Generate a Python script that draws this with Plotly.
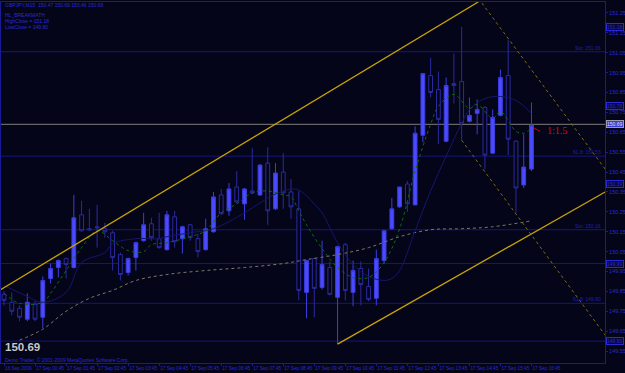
import plotly.graph_objects as go

# ---------------- data ----------------
bars = list(range(69))
opens = [149.835, 149.795, 149.765, 149.71, 149.785, 149.72, 149.915, 149.97, 150.015, 149.97,
         150.235, 150.165, 150.175, 150.165, 150.145, 150.035, 149.945, 150.02, 150.105, 150.19,
         150.115, 150.06, 150.225, 150.115, 150.185, 150.115, 150.06, 150.15, 150.335, 150.255,
         150.375, 150.29, 150.355, 150.335, 150.495, 150.265, 150.45, 150.35, 150.265, 149.845,
         150.015, 149.87, 149.97, 149.82, 150.085, 149.845, 149.965, 149.875, 149.815, 150.005,
         150.165, 150.275, 150.39, 150.285, 150.635, 150.935, 150.865, 150.605, 150.895, 150.905,
         150.705, 150.745, 150.775, 150.545, 150.735, 150.935, 150.605, 150.385, 150.465]
highs = [149.85, 149.845, 149.78, 149.84, 149.80, 149.925, 149.99, 150.01, 150.02, 150.335,
         150.305, 150.265, 150.285, 150.195, 150.155, 150.045, 150.02, 150.10, 150.245, 150.22,
         150.245, 150.255, 150.255, 150.18, 150.19, 150.14, 150.215, 150.35, 150.365, 150.395,
         150.455, 150.37, 150.57, 150.49, 150.575, 150.495, 150.545, 150.415, 150.355, 150.005,
         150.02, 150.105, 150.00, 150.08, 150.095, 150.005, 150.00, 149.965, 150.06, 150.155,
         150.32, 150.375, 150.405, 150.68, 150.945, 151.025, 150.955, 150.925, 151.045, 151.18,
         150.825, 150.815, 150.78, 150.765, 150.965, 151.115, 150.61, 150.64, 150.80]
lows = [149.78, 149.73, 149.70, 149.70, 149.70, 149.665, 149.89, 149.92, 149.915, 149.965,
        150.15, 150.155, 150.07, 150.12, 149.955, 149.905, 149.93, 149.955, 150.10, 150.105,
        150.065, 150.055, 150.07, 150.04, 150.105, 150.02, 150.055, 150.145, 150.235, 150.23,
        150.295, 150.21, 150.34, 150.33, 150.185, 150.26, 150.265, 150.215, 149.805, 149.715,
        149.72, 149.86, 149.83, 149.585, 149.805, 149.775, 149.78, 149.80, 149.78, 149.99,
        150.16, 150.27, 150.25, 150.285, 150.60, 150.825, 150.59, 150.60, 150.795, 150.61,
        150.70, 150.64, 150.465, 150.54, 150.73, 150.535, 150.245, 150.37, 150.455]
closes = [149.805, 149.75, 149.72, 149.795, 149.71, 149.905, 149.965, 150.005, 149.985, 150.22,
          150.155, 150.16, 150.17, 150.15, 150.02, 149.935, 150.015, 150.095, 150.185, 150.12,
          150.07, 150.235, 150.10, 150.175, 150.12, 150.05, 150.165, 150.325, 150.24, 150.365,
          150.30, 150.365, 150.345, 150.485, 150.255, 150.445, 150.345, 150.275, 149.855, 150.005,
          149.865, 149.985, 149.835, 150.075, 149.855, 149.955, 149.885, 149.81, 150.015, 150.155,
          150.265, 150.375, 150.29, 150.645, 150.945, 150.85, 150.715, 150.885, 150.885, 150.695,
          150.735, 150.765, 150.535, 150.725, 150.925, 150.615, 150.37, 150.475, 150.685]

tick_bars = [0, 4, 8, 12, 16, 20, 24, 28, 32, 36, 40, 44, 48, 52, 56, 60, 64, 68]
tick_text = ["16 Sep 2009", "17 Sep 00:45", "17 Sep 01:45", "17 Sep 02:45", "17 Sep 03:45",
             "17 Sep 04:45", "17 Sep 05:45", "17 Sep 06:45", "17 Sep 07:45", "17 Sep 08:45",
             "17 Sep 09:45", "17 Sep 10:45", "17 Sep 11:45", "17 Sep 12:45", "17 Sep 13:45",
             "17 Sep 14:45", "17 Sep 15:45", "17 Sep 16:45"]
price_ticks = [151.25, 151.15, 151.05, 150.95, 150.85, 150.75, 150.65, 150.55, 150.45,
               150.35, 150.25, 150.15, 150.05, 149.95, 149.85, 149.75, 149.65, 149.55]

# moving averages
ma_fast_bar = [0, 2, 5, 6, 8, 10, 12, 14, 16, 18, 19, 21, 24, 26, 28, 30, 32, 34, 36, 37, 38, 39,
               41, 43, 45, 47, 49, 51, 53, 55, 56, 58, 60, 61, 63, 64, 66, 67, 68]
ma_fast_val = [149.84, 149.79, 149.795, 149.84, 149.955, 150.07, 150.155, 150.105, 150.055, 150.05,
               150.085, 150.095, 150.125, 150.155, 150.245, 150.29, 150.345, 150.355, 150.335,
               150.325, 150.255, 150.185, 150.065, 149.97, 149.92, 149.92, 149.995, 150.165,
               150.455, 150.69, 150.78, 150.84, 150.77, 150.79, 150.72, 150.755, 150.655, 150.645,
               150.67]
ma_mid_bar = [0, 3, 5, 8, 10, 13, 14, 17, 20, 21, 24, 27, 31, 33, 35, 37, 38, 39, 40, 41, 43, 45,
              47, 49, 50, 51, 53, 55, 57, 59, 60, 62, 64, 66, 68]
ma_mid_val = [149.88, 149.825, 149.795, 149.845, 149.995, 150.045, 150.09, 150.115, 150.115,
              150.125, 150.145, 150.165, 150.245, 150.295, 150.34, 150.365, 150.36, 150.33, 150.29,
              150.245, 150.095, 149.985, 149.925, 149.905, 149.915, 149.955, 150.155, 150.355,
              150.53, 150.695, 150.765, 150.82, 150.83, 150.81, 150.745]
ma_slow_bar = [2, 5, 8, 11, 14, 17, 21, 26, 31, 36, 39, 43, 47, 51, 55, 59, 63, 68]
ma_slow_val = [149.605, 149.66, 149.75, 149.815, 149.855, 149.905, 149.935, 149.955, 149.97,
               149.99, 150.01, 150.035, 150.07, 150.125, 150.16, 150.165, 150.175, 150.205]

# channel / trend lines (bar index, price)
chan_up_bar = [-0.39, 61.13]
chan_up_price = [149.86, 151.305]
chan_lo_bar = [43, 77.5]
chan_lo_price = [149.585, 150.35]
dot_up_bar = [61.6, 77.5]
dot_up_price = [151.30, 150.465]
dot_lo_bar = [59, 77.5]
dot_lo_price = [150.61, 149.63]

level_prices = [151.055, 150.53, 150.16, 149.99, 149.79, 149.60]
level_labels = ["Sto: 151.06", "61.8: 150.53", "Sto: 150.16", "", "61.8: 149.80", ""]
box_prices = [151.18, 150.78, 150.39, 149.99, 149.60]
current_price = 150.69

BG = "#050519"
NAVY = "#1a1a96"
AXT = "#2a2ad0"
FONT = "Liberation Sans"

fig = go.Figure()

for p in level_prices:
    fig.add_shape(type="line", xref="paper", x0=0, x1=1, yref="y", y0=p, y1=p,
                  line=dict(color="#16167e", width=1), layer="below")
fig.add_shape(type="line", xref="paper", x0=0, x1=1, yref="y", y0=current_price, y1=current_price,
              line=dict(color="#7e7e76", width=1), layer="below")

fig.add_trace(go.Candlestick(
    x=bars, open=opens, high=highs, low=lows, close=closes,
    increasing=dict(line=dict(color="#3c3ce0", width=1), fillcolor="#4a4aff"),
    decreasing=dict(line=dict(color="#2a2aa0", width=1), fillcolor=BG),
    whiskerwidth=0, hoverinfo="skip", showlegend=False))

fig.add_trace(go.Scatter(x=ma_slow_bar, y=ma_slow_val, mode="lines", line_shape="spline",
                         line=dict(color="#7a7a66", width=1, dash="dot"), hoverinfo="skip"))
fig.add_trace(go.Scatter(x=ma_mid_bar, y=ma_mid_val, mode="lines", line_shape="spline",
                         line=dict(color="#15156e", width=1), hoverinfo="skip"))
fig.add_trace(go.Scatter(x=ma_fast_bar, y=ma_fast_val, mode="lines", line_shape="spline",
                         line=dict(color="#0c6a0c", width=1, dash="dot"), hoverinfo="skip"))

for bx, by, dash, w in [(chan_up_bar, chan_up_price, "solid", 1.3),
                        (chan_lo_bar, chan_lo_price, "solid", 1.3),
                        (dot_up_bar, dot_up_price, "dot", 1),
                        (dot_lo_bar, dot_lo_price, "dot", 1)]:
    col = "#c8a400" if dash == "solid" else "#7c6c10"
    fig.add_trace(go.Scatter(x=bx, y=by, mode="lines", line=dict(color=col, width=w, dash=dash),
                             hoverinfo="skip"))

# small red arrow mark + ratio text
fig.add_trace(go.Scatter(x=[68.3, 69.1], y=[150.672, 150.655], mode="lines",
                         line=dict(color="#d00000", width=1), hoverinfo="skip"))

annotations = []
annotations.append(dict(x=69.7, y=150.66, xref="x", yref="y", text="1:1.5", showarrow=False,
                        xanchor="left", yanchor="middle",
                        font=dict(family="Liberation Serif", size=10, color="#e00000")))

for p, lab in zip(level_prices, level_labels):
    if lab:
        annotations.append(dict(x=0.997, y=p, xref="paper", yref="y", text=lab, showarrow=False,
                                xanchor="right", yanchor="bottom", yshift=-1,
                                font=dict(family=FONT, size=5, color="#2020a8")))

for p in box_prices:
    annotations.append(dict(x=1, y=p, xref="paper", yref="y", text=f"{p:.2f}", showarrow=False,
                            xanchor="left", yanchor="middle", xshift=1,
                            bgcolor="#08083a", bordercolor="#2a2ad0", borderwidth=1, borderpad=0,
                            font=dict(family=FONT, size=5, color=AXT)))
annotations.append(dict(x=1, y=current_price, xref="paper", yref="y", text=f"{current_price:.2f}",
                        showarrow=False, xanchor="left", yanchor="middle", xshift=1,
                        bgcolor="#3a3ac8", bordercolor="#9a9ab0", borderwidth=1, borderpad=0,
                        font=dict(family=FONT, size=5, color="#e0e0ff")))

info_lines = ["GBPJPY,M15  150.47 150.69 150.46 150.69", "HL_BREAKMATH", "HighClose = 151.18",
              "LowClose = 149.80"]
info_y = [0.991, 0.964, 0.947, 0.930]
for t, yy in zip(info_lines, info_y):
    annotations.append(dict(x=0.004, y=yy, xref="paper", yref="paper", text=t, showarrow=False,
                            xanchor="left", yanchor="middle",
                            font=dict(family=FONT, size=5, color="#2a2ad8")))

annotations.append(dict(x=0.003, y=0.043, xref="paper", yref="paper", text="<b>150.69</b>",
                        showarrow=False, xanchor="left", yanchor="middle",
                        font=dict(family=FONT, size=11.5, color="#c8c8c8")))
annotations.append(dict(x=0.004, y=0.008, xref="paper", yref="paper",
                        text="Demo Trader, © 2001-2009 MetaQuotes Software Corp.",
                        showarrow=False, xanchor="left", yanchor="middle",
                        font=dict(family=FONT, size=5, color="#2a2ad8")))

fig.update_layout(
    width=625, height=373, margin=dict(l=1, r=20, t=2, b=10, autoexpand=False),
    paper_bgcolor=BG, plot_bgcolor=BG, showlegend=False,
    annotations=annotations,
    xaxis=dict(range=[-0.39, 77.48], rangeslider=dict(visible=False), tickmode="array",
               tickvals=tick_bars, ticktext=tick_text, ticklabelposition="outside right",
               tickangle=0, automargin=False,
               showgrid=False, zeroline=False, showline=True, linecolor=NAVY, linewidth=1,
               mirror=True, ticks="outside", ticklen=2, tickcolor=NAVY,
               tickfont=dict(family=FONT, size=4.7, color=AXT)),
    yaxis=dict(side="right", range=[149.49, 151.305], tickmode="array", tickvals=price_ticks,
               ticktext=[f"{v:.2f}" for v in price_ticks], showgrid=False, zeroline=False,
               automargin=False,
               showline=True, linecolor=NAVY, linewidth=1, mirror=True, ticks="outside",
               ticklen=2, tickcolor=NAVY, tickfont=dict(family=FONT, size=5.5, color=AXT)),
)

fig.write_html("out.html")
